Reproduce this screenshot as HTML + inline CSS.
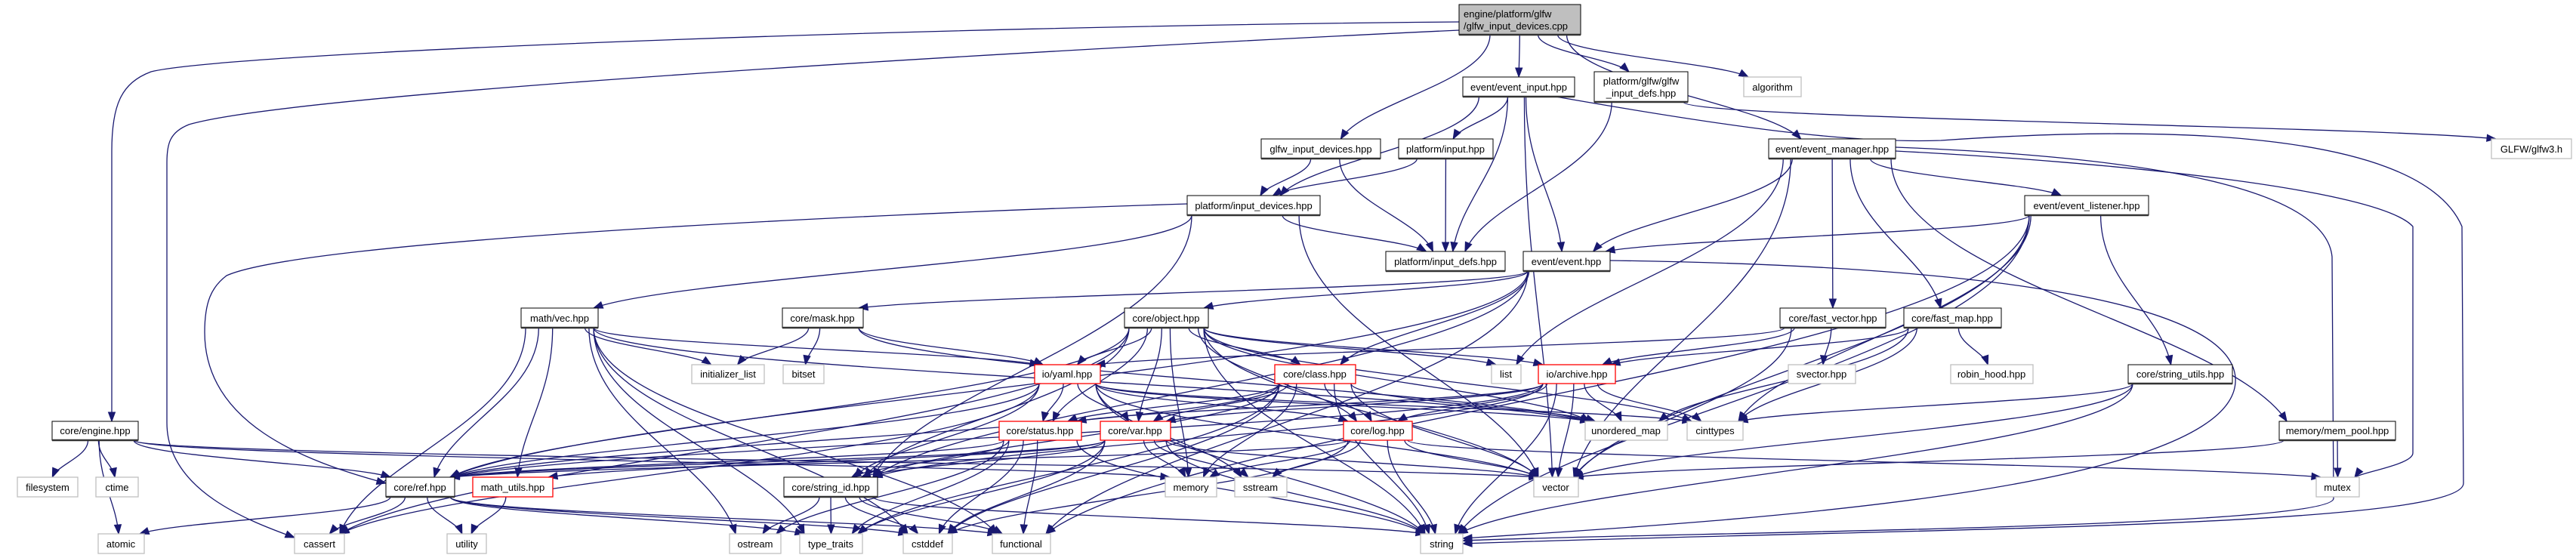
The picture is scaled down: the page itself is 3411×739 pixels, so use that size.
<!DOCTYPE html>
<html><head><meta charset="utf-8"><style>
html,body{margin:0;padding:0;background:#fff;}
svg{display:block;}
text{font-family:"Liberation Sans",Arial,sans-serif;font-size:13px;fill:#000;}
</style></head><body>
<svg id="s" width="3411" height="739" viewBox="0 0 3411 739" xmlns="http://www.w3.org/2000/svg">
<rect width="3411" height="739" fill="#fff"/>
<g id="edges" fill="none" stroke="#191970" stroke-width="1.3"></g>
<g id="arrows" fill="#191970" stroke="#191970" stroke-width="1"></g>
<g id="nodes" text-anchor="middle">
<rect x="1932" y="6" width="161" height="40" fill="#bfbfbf" stroke="#000" stroke-width="1"/><line x1="1932" y1="46" x2="2093" y2="46" stroke="#333" stroke-width="2.5"/>
<text x="1938" y="23" text-anchor="start">engine/platform/glfw</text><text x="1938" y="39" text-anchor="start">/glfw_input_devices.cpp</text>
<rect x="1937" y="102" width="148" height="26" fill="#fff" stroke="#000"/><line x1="1937" y1="128" x2="2085" y2="128" stroke="#333" stroke-width="2.5"/><text x="2011" y="120">event/event_input.hpp</text>
<rect x="2111" y="95" width="124" height="40" fill="#fff" stroke="#000"/><line x1="2111" y1="135" x2="2235" y2="135" stroke="#333" stroke-width="2.5"/><text x="2173" y="112">platform/glfw/glfw</text><text x="2173" y="128">_input_defs.hpp</text>
<rect x="1670" y="184" width="158" height="26" fill="#fff" stroke="#000"/><line x1="1670" y1="210" x2="1828" y2="210" stroke="#333" stroke-width="2.5"/><text x="1749" y="202">glfw_input_devices.hpp</text>
<rect x="1852" y="184" width="125" height="26" fill="#fff" stroke="#000"/><line x1="1852" y1="210" x2="1977" y2="210" stroke="#333" stroke-width="2.5"/><text x="1914" y="202">platform/input.hpp</text>
<rect x="2342" y="184" width="168" height="26" fill="#fff" stroke="#000"/><line x1="2342" y1="210" x2="2510" y2="210" stroke="#333" stroke-width="2.5"/><text x="2426" y="202">event/event_manager.hpp</text>
<rect x="1572" y="259" width="176" height="26" fill="#fff" stroke="#000"/><line x1="1572" y1="285" x2="1748" y2="285" stroke="#333" stroke-width="2.5"/><text x="1660" y="277">platform/input_devices.hpp</text>
<rect x="2681" y="259" width="164" height="26" fill="#fff" stroke="#000"/><line x1="2681" y1="285" x2="2845" y2="285" stroke="#333" stroke-width="2.5"/><text x="2763" y="277">event/event_listener.hpp</text>
<rect x="1835" y="333" width="158" height="26" fill="#fff" stroke="#000"/><line x1="1835" y1="359" x2="1993" y2="359" stroke="#333" stroke-width="2.5"/><text x="1914" y="351">platform/input_defs.hpp</text>
<rect x="2017" y="333" width="115" height="26" fill="#fff" stroke="#000"/><line x1="2017" y1="359" x2="2132" y2="359" stroke="#333" stroke-width="2.5"/><text x="2074" y="351">event/event.hpp</text>
<rect x="690" y="408" width="102" height="26" fill="#fff" stroke="#000"/><line x1="690" y1="434" x2="792" y2="434" stroke="#333" stroke-width="2.5"/><text x="741" y="426">math/vec.hpp</text>
<rect x="1036" y="408" width="107" height="26" fill="#fff" stroke="#000"/><line x1="1036" y1="434" x2="1143" y2="434" stroke="#333" stroke-width="2.5"/><text x="1089" y="426">core/mask.hpp</text>
<rect x="1489" y="408" width="111" height="26" fill="#fff" stroke="#000"/><line x1="1489" y1="434" x2="1600" y2="434" stroke="#333" stroke-width="2.5"/><text x="1544" y="426">core/object.hpp</text>
<rect x="2357" y="408" width="140" height="26" fill="#fff" stroke="#000"/><line x1="2357" y1="434" x2="2497" y2="434" stroke="#333" stroke-width="2.5"/><text x="2427" y="426">core/fast_vector.hpp</text>
<rect x="2521" y="408" width="129" height="26" fill="#fff" stroke="#000"/><line x1="2521" y1="434" x2="2650" y2="434" stroke="#333" stroke-width="2.5"/><text x="2585" y="426">core/fast_map.hpp</text>
<rect x="2818" y="483" width="138" height="25" fill="#fff" stroke="#000"/><line x1="2818" y1="508" x2="2956" y2="508" stroke="#333" stroke-width="2.5"/><text x="2887" y="500">core/string_utils.hpp</text>
<rect x="69" y="558" width="114" height="25" fill="#fff" stroke="#000"/><line x1="69" y1="583" x2="183" y2="583" stroke="#333" stroke-width="2.5"/><text x="126" y="575">core/engine.hpp</text>
<rect x="3018" y="558" width="154" height="25" fill="#fff" stroke="#000"/><line x1="3018" y1="583" x2="3172" y2="583" stroke="#333" stroke-width="2.5"/><text x="3095" y="575">memory/mem_pool.hpp</text>
<rect x="511" y="632" width="91" height="26" fill="#fff" stroke="#000"/><line x1="511" y1="658" x2="602" y2="658" stroke="#333" stroke-width="2.5"/><text x="556" y="650">core/ref.hpp</text>
<rect x="1038" y="632" width="124" height="26" fill="#fff" stroke="#000"/><line x1="1038" y1="658" x2="1162" y2="658" stroke="#333" stroke-width="2.5"/><text x="1100" y="650">core/string_id.hpp</text>
<g fill="#fff" stroke="#ff0000" stroke-width="1.3">
<rect x="1370" y="483" width="87" height="25"/><rect x="1688" y="483" width="107" height="25"/><rect x="2037" y="483" width="102" height="25"/>
<rect x="1323" y="558" width="109" height="25"/><rect x="1457" y="558" width="93" height="25"/><rect x="1779" y="558" width="91" height="25"/>
<rect x="626" y="632" width="106" height="26"/>
</g>
<text x="1413" y="500">io/yaml.hpp</text><text x="1741" y="500">core/class.hpp</text><text x="2088" y="500">io/archive.hpp</text>
<text x="1377" y="575">core/status.hpp</text><text x="1503" y="575">core/var.hpp</text><text x="1824" y="575">core/log.hpp</text>
<text x="679" y="650">math_utils.hpp</text>
<g fill="#fff" stroke="#bfbfbf" stroke-width="1.3">
<rect x="2309" y="102" width="76" height="26"/><rect x="3299" y="184" width="106" height="26"/>
<rect x="916" y="483" width="96" height="25"/><rect x="1037" y="483" width="54" height="25"/><rect x="1975" y="483" width="39" height="25"/>
<rect x="2368" y="483" width="89" height="25"/><rect x="2583" y="483" width="109" height="25"/>
<rect x="2099" y="558" width="109" height="25"/><rect x="2234" y="558" width="74" height="25"/>
<rect x="23" y="632" width="80" height="26"/><rect x="127" y="632" width="56" height="26"/><rect x="1543" y="632" width="68" height="26"/>
<rect x="1635" y="632" width="69" height="26"/><rect x="2031" y="632" width="59" height="26"/><rect x="3067" y="632" width="57" height="26"/>
<rect x="130" y="707" width="61" height="26"/><rect x="390" y="707" width="66" height="26"/><rect x="592" y="707" width="52" height="26"/>
<rect x="966" y="707" width="68" height="26"/><rect x="1059" y="707" width="83" height="26"/><rect x="1196" y="707" width="65" height="26"/>
<rect x="1314" y="707" width="77" height="26"/><rect x="1881" y="707" width="56" height="26"/>
</g>
<text x="2347" y="120">algorithm</text><text x="3352" y="202">GLFW/glfw3.h</text>
<text x="964" y="500">initializer_list</text><text x="1064" y="500">bitset</text><text x="1994" y="500">list</text>
<text x="2412" y="500">svector.hpp</text><text x="2637" y="500">robin_hood.hpp</text>
<text x="2153" y="575">unordered_map</text><text x="2271" y="575">cinttypes</text>
<text x="63" y="650">filesystem</text><text x="155" y="650">ctime</text><text x="1577" y="650">memory</text>
<text x="1669" y="650">sstream</text><text x="2060" y="650">vector</text><text x="3095" y="650">mutex</text>
<text x="160" y="725">atomic</text><text x="423" y="725">cassert</text><text x="618" y="725">utility</text>
<text x="1000" y="725">ostream</text><text x="1100" y="725">type_traits</text><text x="1228" y="725">cstddef</text>
<text x="1352" y="725">functional</text><text x="1909" y="725">string</text>
</g>
</svg>
<script>
var N={top:[1932,2093,6,46],ei:[1937,2085,102,128],gid:[2111,2235,95,135],alg:[2309,2385,102,128],
gidv:[1670,1828,184,210],inp:[1852,1977,184,210],em:[2342,2510,184,210],glfw:[3299,3405,184,210],
idev:[1572,1748,259,285],el:[2681,2845,259,285],idef:[1835,1993,333,359],ev:[2017,2132,333,359],
vec:[690,792,408,434],mask:[1036,1143,408,434],obj:[1489,1600,408,434],fv:[2357,2497,408,434],fm:[2521,2650,408,434],
il:[916,1012,483,508],bit:[1037,1091,483,508],yaml:[1370,1457,483,508],cls:[1688,1795,483,508],list:[1975,2014,483,508],
arc:[2037,2139,483,508],sv:[2368,2457,483,508],rh:[2583,2692,483,508],su:[2818,2956,483,508],
eng:[69,183,558,583],st:[1323,1432,558,583],vr:[1457,1550,558,583],log:[1779,1870,558,583],um:[2099,2208,558,583],
cit:[2234,2308,558,583],mp:[3018,3172,558,583],fs:[23,103,632,658],ct:[127,183,632,658],ref:[511,602,632,658],
mu:[626,732,632,658],sid:[1038,1162,632,658],mem:[1543,1611,632,658],ss:[1635,1704,632,658],vector:[2031,2090,632,658],
mtx:[3067,3124,632,658],at:[130,191,707,733],cas:[390,456,707,733],ut:[592,644,707,733],os:[966,1034,707,733],
tt:[1059,1142,707,733],cd:[1196,1261,707,733],fn:[1314,1391,707,733],str:[1881,1937,707,733]};
var E={top:'gidv ei gid alg em',ei:'idev inp idef ev vector',gid:'idef glfw',gidv:'idev idef',inp:'idev idef',
em:'ev el list fv fm vector mp',idev:'vec sid idef vector',el:'ev su cit vector fn str',ev:'obj mask cls ref sid fn',
vec:'il yaml cas ref mu os tt cd fn um',mask:'il bit yaml um',
obj:'yaml cls st vr sid ref cas list arc log um cit vector str mem',fv:'yaml arc sv vector',fm:'arc rh cit um',
yaml:'st ref cas sid log um cit vector ss str vr',cls:'st vr log ref sid um mem vector str cd tt',
arc:'st vr log um cit vector ref sid str',su:'cit vector str',eng:'fs ct at ref mem vector',
st:'sid fn tt cd os ref str',vr:'ref mu sid mem ss vector str tt cd',log:'mem ss vector str mtx ref cd',
mp:'vector mtx',ref:'at cas ut tt cd fn',mu:'ut',sid:'os tt cd fn str'};
var eg=document.getElementById('edges'),ag=document.getElementById('arrows'),ns='http://www.w3.org/2000/svg';
function cl(v,a,b){return Math.max(a,Math.min(b,v));}
function path(d){var p=document.createElementNS(ns,'path');p.setAttribute('d',d);eg.appendChild(p);}
function arrow(x,y,dx,dy){var L=Math.hypot(dx,dy)||1;dx/=L;dy/=L;var l=12,w=4.5;
var bx=x-dx*l,by=y-dy*l;var p=document.createElementNS(ns,'polygon');
p.setAttribute('points',x+','+y+' '+(bx-dy*w)+','+(by+dx*w)+' '+(bx+dy*w)+','+(by-dx*w));ag.appendChild(p);}
for(var s in E){E[s].split(' ').forEach(function(t){var a=N[s],b=N[t];
var ca=(a[0]+a[1])/2,cb=(b[0]+b[1])/2,wa=(a[1]-a[0])/2,wb=(b[1]-b[0])/2;
var sx=ca+cl((cb-ca)*0.15,-wa+6,wa-6),sy=a[3];
var tx=cb+cl((ca-cb)*0.1,-wb+6,wb-6),ty=b[2];
var dy=ty-sy;var c1y=sy+dy*0.45,c2x=tx+(sx-tx)*0.15,c2y=ty-dy*0.35;
path('M'+sx+','+sy+' C'+sx+','+c1y+' '+c2x+','+c2y+' '+tx+','+ty);
arrow(tx,ty,tx-c2x,ty-c2y);});}
var C=[['M1932,29 C1200,35 300,70 200,95 C160,110 148,140 148,200 L148,558',148,558,0,1],
['M1932,40 C1500,60 400,120 250,165 C225,175 221,190 221,215 L221,560 C221,650 330,690 390,712',390,712,1,0.4],
['M1572,270 C1100,285 400,320 300,365 C280,380 271,400 271,440 C271,560 400,610 511,640',511,640,1,0.25],
['M2060,128 C2300,170 2450,190 2570,186 C2800,170 3200,160 3260,300 L3262,640 C3262,700 2500,700 1937,720',1937,720,-1,0.03],
['M2510,200 C2800,215 3150,250 3195,300 L3195,600 C3195,615 3130,625 3118,632',3118,632,-0.7,1],
['M2510,195 C2900,210 3080,260 3088,340 L3090,660 C3090,700 2200,705 1937,716',1937,716,-1,0.02],
['M2132,345 C2500,350 2950,380 2960,500 C2970,650 2300,690 1937,713',1937,713,-1,0.05]];
C.forEach(function(c){path(c[0]);arrow(c[1],c[2],c[3],c[4]);});
</script>
</body></html>
